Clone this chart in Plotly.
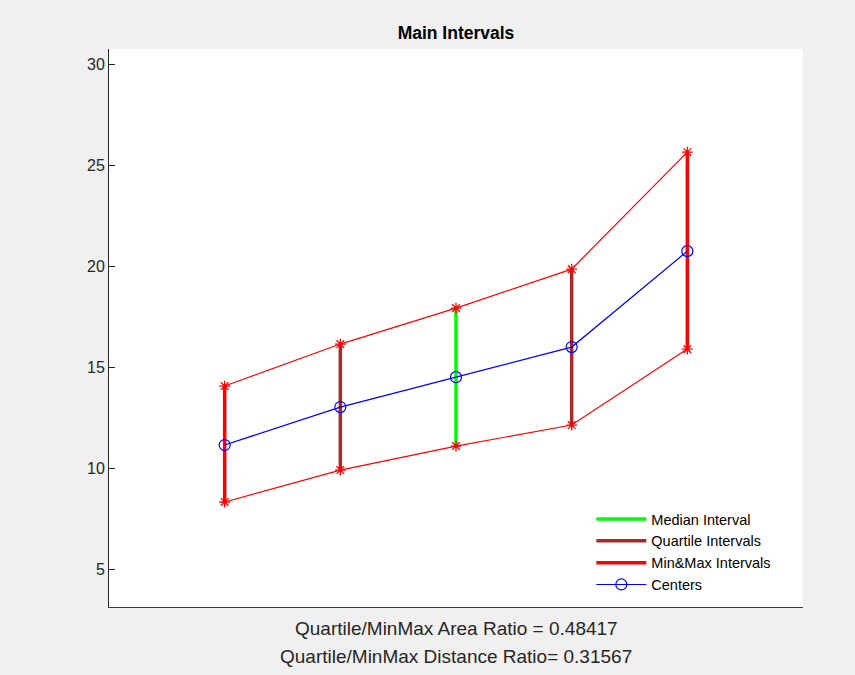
import plotly.graph_objects as go

positions = [1, 2, 3, 4, 5]
max_vals = [14.06, 16.14, 17.92, 19.85, 25.64]
centers = [11.14, 13.02, 14.50, 15.99, 20.74]
min_vals = [8.32, 9.90, 11.09, 12.13, 15.89]
interval_kind = ["minmax", "quartile", "median", "quartile", "minmax"]

y_ticks = [5, 10, 15, 20, 25, 30]
title_text = "Main Intervals"
xlabel_lines = ["Quartile/MinMax Area Ratio = 0.48417",
                "Quartile/MinMax Distance Ratio= 0.31567"]

FONT = "Liberation Sans, Arial, Helvetica, sans-serif"
TXT = "#262626"
colors = {"median": "#00ff00", "quartile": "#a52a2a", "minmax": "#ff0000"}
names = {"median": "Median Interval", "quartile": "Quartile Intervals", "minmax": "Min&Max Intervals"}

W, H = 855, 675
ML, MR, MT, MB = 109, 52, 49, 68
plot_h = H - MT - MB

fig = go.Figure()

# thin connecting lines for tops and bottoms
for vals in (max_vals, min_vals):
    fig.add_trace(go.Scatter(x=positions, y=vals, mode="lines",
                             line=dict(color="#ff0000", width=1.2),
                             showlegend=False, hoverinfo="skip"))

# thick vertical intervals grouped by kind
for kind in ["median", "quartile", "minmax"]:
    xs, ys = [], []
    for p, lo, hi, k in zip(positions, min_vals, max_vals, interval_kind):
        if k == kind:
            xs += [p, p, None]
            ys += [lo, hi, None]
    fig.add_trace(go.Scatter(x=xs, y=ys, mode="lines",
                             line=dict(color=colors[kind], width=3.5),
                             name=names[kind]))

# star markers at extremes
fig.add_trace(go.Scatter(x=positions + positions, y=max_vals + min_vals, mode="markers",
                         marker=dict(symbol="asterisk-open", size=9, color="#ff0000",
                                     line=dict(color="#ff0000", width=1.3)),
                         showlegend=False, hoverinfo="skip"))

# centers
fig.add_trace(go.Scatter(x=positions, y=centers, mode="lines+markers",
                         line=dict(color="#0000ff", width=1.2),
                         marker=dict(symbol="circle-open", size=11, color="#0000ff",
                                     line=dict(color="#0000ff", width=1.2)),
                         name="Centers"))

def paper_y(py):
    return (H - MB - py) / plot_h

annotations = []
for line_text, py in zip(xlabel_lines, [628, 656]):
    annotations.append(dict(text=line_text, xref="paper", yref="paper", x=0.5,
                            y=paper_y(py), xanchor="center", yanchor="middle",
                            showarrow=False,
                            font=dict(size=19, color=TXT, family=FONT)))

fig.update_layout(
    width=W, height=H,
    margin=dict(l=ML, r=MR, t=MT, b=MB),
    paper_bgcolor="#f0f0f0", plot_bgcolor="#ffffff",
    font=dict(family=FONT, color=TXT, size=16),
    title=dict(text="<b>" + title_text + "</b>", x=0.5, xref="paper",
               y=1 - 33 / H, yanchor="middle",
               font=dict(size=17.5, color="#000000", family=FONT)),
    legend=dict(x=0.695, y=paper_y(503), xanchor="left", yanchor="top",
                bgcolor="rgba(255,255,255,0)", borderwidth=0,
                font=dict(size=14.5, color="#000000", family=FONT),
                itemwidth=50),
    showlegend=True,
    annotations=annotations,
)

fig.update_xaxes(range=[0, 6], showticklabels=False, ticks="", showgrid=False,
                 zeroline=False, showline=True, linecolor="#3a3a3a", linewidth=1,
                 mirror=False)
fig.update_yaxes(range=[3.12, 30.75], tickvals=y_ticks, ticks="inside", ticklen=6,
                 tickcolor="#262626", showgrid=False, zeroline=False, showline=True,
                 linecolor="#262626", linewidth=1, mirror=False,
                 tickfont=dict(size=16, color=TXT, family=FONT))

fig.write_html("out.html", config={"displayModeBar": False},
               post_script="document.body.style.margin='0';document.body.style.background='#f0f0f0';")
